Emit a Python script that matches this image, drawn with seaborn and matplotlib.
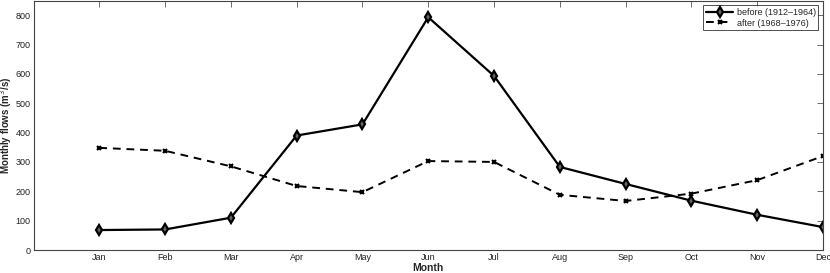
import matplotlib
matplotlib.use("Agg")
import matplotlib.pyplot as plt
import seaborn as sns
import pandas as pd

months = ["Jan", "Feb", "Mar", "Apr", "May", "Jun", "Jul", "Aug", "Sep", "Oct", "Nov", "Dec"]
before = [68, 70, 110, 390, 428, 793, 593, 283, 225, 168, 120, 78]
after = [348, 338, 285, 218, 197, 303, 300, 188, 167, 192, 238, 320]
label_before = "before (1912\u20131964)"
label_after = "after (1968\u20131976)"

sns.set_theme(style="white")
plt.rcParams['font.family'] = ['Liberation Sans', 'DejaVu Sans']

df = pd.DataFrame({"Month": months * 2,
                   "flow": before + after,
                   "series": [label_before] * 12 + [label_after] * 12})

fig = plt.figure(figsize=(8.3, 2.73), dpi=100)
ax = fig.add_axes([33.5 / 830, 23 / 273, (823 - 33.5) / 830, (273 - 23 - 0.5) / 273])

sns.lineplot(data=df[df.series == label_before], x="Month", y="flow", ax=ax,
             color="black", lw=1.6, marker="d", markersize=5, markerfacecolor="#666666",
             markeredgecolor="black", markeredgewidth=1.6, label=label_before, sort=False)
sns.lineplot(data=df[df.series == label_after], x="Month", y="flow", ax=ax,
             color="black", lw=1.4, linestyle=(0, (4, 3)), marker="x", markersize=3.5,
             markeredgecolor="black", markeredgewidth=1.5, label=label_after, sort=False)

ax.set_xlim(-1, 11)
ax.set_ylim(0, 850)
ax.set_yticks(range(0, 900, 100))
ax.set_xticks(range(12))
ax.set_xticklabels(months)
ax.tick_params(direction="in", length=4, width=0.6, colors="#555555", labelsize=6.5,
               labelcolor="#222222", top=True, right=True, pad=2)
for s in ax.spines.values():
    s.set_color("#444444")
    s.set_linewidth(0.8)
    s.set_visible(True)
ax.set_xlabel("Month", fontsize=7.5, fontweight="bold", labelpad=1)
ax.set_ylabel("Monthly flows (m$^3$/s)", fontsize=7, fontweight="bold", labelpad=1)

leg = ax.legend(loc="upper right", fontsize=6.5, frameon=True, fancybox=False,
                edgecolor="black", borderpad=0.3, labelspacing=0.2, handlelength=3,
                handletextpad=0.4, borderaxespad=0.5)
leg.get_frame().set_linewidth(0.6)

fig.savefig("out.png", dpi=100)
